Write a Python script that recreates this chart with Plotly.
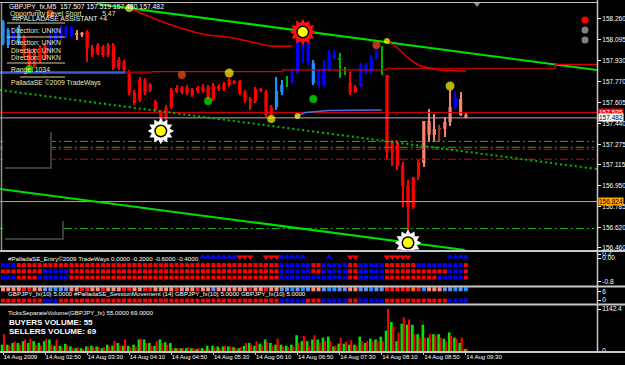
import plotly.graph_objects as go

W, H = 625, 365
def px(x):
    return x / W
def py(y):
    return 1 - y / H

def rle(pairs):
    return [c for c, n in pairs for _ in range(n)]

# ---------------- data ----------------
bar_idx = list(range(89))
tick_idx = [0, 8, 16, 24, 32, 40, 48, 56, 64, 72, 80, 88]
tick_labels = ["14 Aug 2009", "14 Aug 02:50", "14 Aug 03:30", "14 Aug 04:10", "14 Aug 04:50",
               "14 Aug 05:30", "14 Aug 06:10", "14 Aug 06:50", "14 Aug 07:30", "14 Aug 08:10",
               "14 Aug 08:50", "14 Aug 09:30"]
price_ticks = [158.260, 158.095, 157.930, 157.770, 157.605, 157.440, 157.275, 157.115,
               156.950, 156.785, 156.620, 156.460]

candle_class = rle([("L", 2), ("B", 1), ("L", 1), ("R", 5), ("B", 5), ("S", 2), ("R", 36),
                    ("L", 2), ("G", 1), ("B", 4), ("L", 1), ("B", 4), ("G", 2), ("R", 2),
                    ("B", 4), ("G", 1), ("R", 7), ("S", 3), ("D", 1), ("S", 2), ("B", 1), ("S", 2)])

open_ = [158.071, 158.055, 158.094, 158.071, 158.110, 158.000, 158.000, 158.032, 158.055, 158.016,
         158.094, 158.110, 158.134, 158.134, 158.134, 158.134, 158.157, 158.032, 158.055, 158.040,
         158.055, 158.055, 157.937, 157.922, 157.843, 157.678, 157.780, 157.780, 157.741, 157.607,
         157.528, 157.560, 157.701, 157.717, 157.717, 157.717, 157.701, 157.717, 157.725, 157.725,
         157.733, 157.733, 157.749, 157.780, 157.772, 157.772, 157.686, 157.631, 157.709, 157.709,
         157.686, 157.568, 157.568, 157.686, 157.764, 157.764, 157.843, 158.016, 157.914, 157.756,
         157.741, 157.741, 157.859, 157.953, 157.937, 157.859, 157.756, 157.725, 157.741, 157.843,
         157.843, 157.961, 158.032, 157.819, 157.293, 157.285, 157.112, 156.955, 157.017, 157.135,
         157.127, 157.348, 157.348, 157.387, 157.395, 157.450, 157.568, 157.631, 157.507]
high = [158.252, 158.189, 158.173, 158.212, 158.134, 158.016, 158.032, 158.055, 158.071, 158.173,
        158.189, 158.212, 158.212, 158.205, 158.173, 158.157, 158.173, 158.055, 158.071, 158.055,
        158.071, 158.071, 157.961, 157.937, 157.859, 157.701, 157.804, 157.796, 157.756, 157.623,
        157.544, 157.584, 157.717, 157.741, 157.733, 157.741, 157.717, 157.733, 157.749, 157.741,
        157.756, 157.749, 157.764, 157.796, 157.780, 157.780, 157.701, 157.646, 157.725, 157.717,
        157.701, 157.584, 157.804, 157.780, 157.812, 157.859, 158.134, 158.134, 158.094, 157.937,
        157.859, 157.937, 158.016, 158.016, 157.992, 157.882, 157.843, 157.741, 157.914, 157.914,
        157.977, 158.055, 158.040, 157.819, 157.308, 157.308, 157.135, 156.994, 157.017, 157.151,
        157.458, 157.552, 157.513, 157.426, 157.489, 157.701, 157.686, 157.686, 157.519]
low = [158.055, 158.032, 158.071, 158.055, 157.953, 157.859, 157.874, 157.914, 157.937, 157.992,
       158.071, 158.094, 158.110, 158.118, 158.094, 158.118, 157.922, 157.961, 157.977, 157.961,
       157.961, 157.859, 157.859, 157.843, 157.662, 157.584, 157.607, 157.662, 157.686, 157.528,
       157.426, 157.466, 157.552, 157.678, 157.670, 157.662, 157.646, 157.678, 157.678, 157.631,
       157.615, 157.694, 157.694, 157.725, 157.749, 157.662, 157.599, 157.544, 157.599, 157.686,
       157.489, 157.489, 157.544, 157.662, 157.725, 157.749, 157.827, 157.914, 157.898, 157.741,
       157.717, 157.725, 157.843, 157.937, 157.796, 157.819, 157.662, 157.678, 157.725, 157.827,
       157.827, 157.937, 157.819, 157.158, 157.104, 157.072, 156.782, 156.530, 156.766, 156.994,
       157.096, 157.293, 157.293, 157.293, 157.332, 157.418, 157.544, 157.497, 157.480]
close = [158.236, 158.173, 158.157, 158.197, 157.977, 157.898, 157.890, 157.937, 157.953, 158.134,
         158.173, 158.189, 158.197, 158.189, 158.150, 158.150, 158.032, 157.977, 157.992, 157.977,
         157.977, 157.874, 157.874, 157.859, 157.678, 157.599, 157.623, 157.678, 157.701, 157.544,
         157.466, 157.481, 157.568, 157.686, 157.686, 157.678, 157.662, 157.694, 157.694, 157.646,
         157.631, 157.709, 157.709, 157.741, 157.756, 157.678, 157.623, 157.615, 157.615, 157.701,
         157.505, 157.505, 157.694, 157.741, 157.772, 157.843, 158.118, 158.110, 158.071, 157.914,
         157.835, 157.874, 157.992, 157.992, 157.945, 157.867, 157.686, 157.686, 157.898, 157.898,
         157.961, 158.016, 158.040, 157.213, 157.213, 157.104, 156.947, 156.782, 156.782, 157.017,
         157.458, 157.458, 157.395, 157.403, 157.450, 157.568, 157.639, 157.505, 157.482]

buy_vol = [172, 172, 219, 219, 267, 219, 267, 219, 267, 314,
           143, 143, 191, 124, 76, 76, 124, 143, 124, 76,
           172, 143, 219, 143, 143, 172, 314, 314, 219, 143,
           314, 238, 219, 76, 76, 76, 76, 48, 76, 143,
           143, 124, 124, 124, 105, 76, 143, 219, 143, 200,
           314, 219, 172, 172, 143, 172, 429, 267, 267, 314,
           314, 362, 391, 124, 200, 200, 172, 172, 391, 219,
           334, 314, 391, 553, 791, 267, 743, 715, 715, 457,
           715, 362, 457, 457, 334, 505, 362, 219, 48]
sell_vol = [457, 143, 267, 172, 314, 343, 172, 143, 334, 172,
            314, 105, 143, 76, 105, 48, 124, 105, 105, 105,
            124, 267, 143, 314, 105, 124, 334, 219, 143, 267,
            219, 172, 76, 76, 76, 105, 76, 76, 48, 48,
            105, 76, 143, 124, 76, 105, 219, 172, 267, 143,
            238, 143, 334, 124, 105, 124, 219, 410, 143, 429,
            219, 267, 267, 143, 353, 257, 295, 143, 267, 267,
            267, 267, 267, 1142.4, 677, 505, 915, 858, 457, 362,
            362, 457, 438, 362, 267, 410, 334, 362, 67]

entry_row1 = rle([("b", 3), ("r", 50), ("b", 6), ("r", 2), ("b", 5), ("r", 2), ("b", 5), ("r", 6), ("b", 9), ("r", 1)])
entry_row2 = rle([("r", 8), ("b", 5), ("r", 40), ("b", 6), ("r", 2), ("b", 5), ("r", 2), ("b", 5), ("r", 12), ("b", 3), ("r", 1)])
entry_row3 = rle([("b", 3), ("r", 4), ("b", 6), ("r", 40), ("b", 13), ("r", 2), ("b", 5), ("r", 10), ("b", 5), ("r", 1)])
session_bottom = rle([("r", 8), ("b", 3), ("r", 42), ("b", 5), ("r", 3), ("b", 5), ("r", 2), ("b", 5), ("r", 12), ("b", 4)])
session_top = list("pppprrpp" "ccdcc" "pprrpprppprrpprrpp" "pprppprppcpppp" "pprpprpp" "ccdcdc" "pp"
                   "cddcc" "pp" "ccdcc" "rrrrror" "dpppc" "cdcd")

up_arrow_idx = [38, 39, 40, 41, 42, 43, 44, 53, 54, 55, 56, 57, 62, 85, 86, 87, 88]
down_arrow_idx = [45, 46, 47, 50, 51, 52, 66, 67, 73, 74, 75, 76, 77]

dot_idx = [5, 9, 24, 34, 43, 39, 51, 56, 59, 71, 73, 85]
dot_price = [157.867, 158.299, 158.346, 157.819, 157.835, 157.615, 157.473, 157.497, 157.631, 158.055, 158.087, 157.733]
dot_color = ["#00ff00", "#ff5010", "#ffff00", "#ff5010", "#ffff00", "#00ff00", "#ffff00", "#ffff00",
             "#00ff00", "#ff5010", "#ffff00", "#ffff00"]
dot_size = [8, 8, 8, 8, 9, 8, 8, 6, 8, 8, 6, 9]

sun_white_idx = [30, 77]
sun_white_price = [157.379, 156.500]
sun_red_idx = [57]
sun_red_price = [158.157]

upper_line_idx = [17.9, 112.9]
upper_line_price = [158.378, 157.859]
mid_line_idx = [-0.6, 112.9]
mid_line_price = [157.701, 157.080]
lower_line_idx = [-0.6, 87.8]
lower_line_price = [156.923, 156.443]

dashdot_prices = [157.297, 157.251, 157.235, 157.157, 156.613]
dashdot_colors = ["#18b818", "#18b818", "#e00000", "#e00000", "#18b818"]
solid_levels = [157.525, 157.482, 156.824]
solid_colors = ["#e00000", "#b0b0b0", "#ffa500"]

ma1_idx = [24, 28, 32, 37, 39, 43, 47, 51, 55]
ma1_price = [158.346, 158.275, 158.212, 158.150, 158.134, 158.116, 158.081, 158.047, 158.047]
ma2_idx = [73, 75, 77, 79, 81, 83, 88]
ma2_price = [158.087, 158.032, 157.953, 157.898, 157.874, 157.859, 157.851]
blue_ma_idx = [55.5, 57.5, 62, 72]
blue_ma_price = [157.492, 157.524, 157.540, 157.544]

step_idx = [28.3, 53.2, 73, 105, 113]
step_price = [157.845, 157.859, 157.872, 157.903, 157.903]
range_blue_idx = [-0.6, 23.2]
range_red_idx = [23.2, 28.3]
range_price = 157.839

# ---------------- figure ----------------
fig = go.Figure()

def line(xs, ys, color, width=1, dash=None, shape="linear", yaxis="y"):
    fig.add_trace(go.Scatter(x=xs, y=ys, mode="lines", yaxis=yaxis, hoverinfo="skip",
                             line=dict(color=color, width=width, dash=dash, shape=shape)))

for p, c in zip(dashdot_prices, dashdot_colors):
    line([-0.6, 112.4], [p, p], c, 1, "8px,3px,2px,3px")
for p, c in zip(solid_levels, solid_colors):
    line([-0.6, 113], [p, p], c, 1)
line(mid_line_idx, mid_line_price, "#00c000", 2, "2px,3px")
line(upper_line_idx, upper_line_price, "#00e000", 2)
line(lower_line_idx, lower_line_price, "#00e000", 2)
line(range_blue_idx, [range_price] * 2, "#3a5fd0", 2.5)
line(range_red_idx, [range_price] * 2, "#900000", 2.5)
line(step_idx, step_price, "#e00000", 1.2, shape="hv")
line(ma1_idx, ma1_price, "#e00000", 1.5, shape="spline")
line(ma2_idx, ma2_price, "#e00000", 1.5, shape="spline")
line(blue_ma_idx, blue_ma_price, "#4a6fe0", 1.5)

CANDLE_COLORS = {"R": "#ff0000", "B": "#0000ff", "L": "#1e90ff", "S": "#fa8072",
                 "G": "#00b000", "D": "#8b3a3a"}
for cls, col in CANDLE_COLORS.items():
    ids = [i for i in bar_idx if candle_class[i] == cls]
    if not ids:
        continue
    fig.add_trace(go.Bar(x=ids, y=[high[i] - low[i] for i in ids], base=[low[i] for i in ids],
                         width=0.22, marker=dict(color=col, line=dict(width=0)),
                         yaxis="y", hoverinfo="skip"))
    bw = 0.25 if cls == "G" else 0.62
    fig.add_trace(go.Bar(x=ids, y=[max(abs(close[i] - open_[i]), 0.005) for i in ids],
                         base=[min(open_[i], close[i]) for i in ids], width=bw,
                         marker=dict(color=col, line=dict(width=0)), yaxis="y", hoverinfo="skip"))

fig.add_trace(go.Scatter(x=dot_idx, y=dot_price, mode="markers", hoverinfo="skip",
                         marker=dict(color=dot_color, size=dot_size, line=dict(width=0))))

for idxs, prices, spike in [(sun_white_idx, sun_white_price, "white"), (sun_red_idx, sun_red_price, "#ff1010")]:
    for ang in (0, 30):
        fig.add_trace(go.Scatter(x=idxs, y=prices, mode="markers", hoverinfo="skip",
                                 marker=dict(symbol="hexagram", size=20, color=spike, angle=ang,
                                             line=dict(width=0))))
    fig.add_trace(go.Scatter(x=idxs, y=prices, mode="markers", hoverinfo="skip",
                             marker=dict(symbol="circle", size=13, color="black", line=dict(width=0))))
    fig.add_trace(go.Scatter(x=idxs, y=prices, mode="markers", hoverinfo="skip",
                             marker=dict(symbol="circle", size=10, color="#ffff00", line=dict(width=0))))

# entry panel
RB = {"r": "#ff0000", "b": "#0000ff"}
for row_no, row in [(1, entry_row1), (2, entry_row2), (3, entry_row3)]:
    fig.add_trace(go.Scatter(x=bar_idx, y=[row_no] * len(bar_idx), yaxis="y2", mode="markers",
                             hoverinfo="skip",
                             marker=dict(symbol="square", size=4, color=[RB[c] for c in row],
                                         line=dict(width=0))))
fig.add_trace(go.Scatter(x=up_arrow_idx, y=[-0.3] * len(up_arrow_idx), yaxis="y2", mode="markers",
                         hoverinfo="skip",
                         marker=dict(symbol="triangle-up", size=6, color="#0000ff", line=dict(width=0))))
fig.add_trace(go.Scatter(x=down_arrow_idx, y=[-0.3] * len(down_arrow_idx), yaxis="y2", mode="markers",
                         hoverinfo="skip",
                         marker=dict(symbol="triangle-down", size=6, color="#ff0000", line=dict(width=0))))

# session panel
TOP = {"p": "#ff8c7a", "r": "#ff1a1a", "o": "#ff6a00", "c": "#6a8fe8", "d": "#1e90ff"}
fig.add_trace(go.Scatter(x=bar_idx, y=[1] * len(bar_idx), yaxis="y3", mode="markers", hoverinfo="skip",
                         marker=dict(symbol="square", size=4, color=[TOP[c] for c in session_top],
                                     line=dict(width=0))))
fig.add_trace(go.Scatter(x=bar_idx, y=[2] * len(bar_idx), yaxis="y3", mode="markers", hoverinfo="skip",
                         marker=dict(symbol="square", size=4, color=[RB[c] for c in session_bottom],
                                     line=dict(width=0))))

# volume panel
fig.add_trace(go.Bar(x=bar_idx, y=buy_vol, yaxis="y4", width=0.5, offset=-0.42,
                     marker=dict(color="#00e600", line=dict(width=0)), hoverinfo="skip"))
fig.add_trace(go.Bar(x=bar_idx, y=sell_vol, yaxis="y4", width=0.4, offset=0.0,
                     marker=dict(color="#ff0000", line=dict(width=0)), hoverinfo="skip"))

TF = dict(family="Liberation Sans", color="white", size=6.5)
common_y = dict(side="right", anchor="x", showgrid=False, zeroline=False, ticks="outside",
                ticklen=3, tickcolor="white", tickfont=TF, showline=False, fixedrange=True,
                automargin=False)

fig.update_layout(
    width=W, height=H, margin=dict(l=0, r=0, t=0, b=0, autoexpand=False),
    paper_bgcolor="black", plot_bgcolor="black", showlegend=False, barmode="overlay",
    xaxis=dict(domain=[0, 597 / W], range=[-0.57, 112.93], anchor="y4", showgrid=False,
               zeroline=False, tickvals=tick_idx, ticktext=tick_labels, ticks="outside",
               ticklen=3, tickcolor="#c0c0c0", tickangle=0, automargin=False,
               tickfont=dict(family="Liberation Sans", color="white", size=6),
               ticklabelposition="outside right", showline=False),
    yaxis=dict(domain=[py(250), py(3)], range=[156.4435, 158.385], tickvals=price_ticks,
               ticktext=[f"{v:.3f}" for v in price_ticks], **common_y),
    yaxis2=dict(domain=[py(285), py(252)], range=[4.2, -1.1], tickvals=[-0.77, -0.13, 3.69],
                ticktext=["0.2", "0.00", "-0.8"], **common_y),
    yaxis3=dict(domain=[py(304), py(287)], range=[2.31, 0.795], tickvals=[1.24, 1.96],
                ticktext=["6", "0"], **common_y),
    yaxis4=dict(domain=[py(351), py(306)], range=[0, 1224], tickvals=[1142.4, 0],
                ticktext=["1142.4", "0"], **common_y),
)

KH = "#eee8aa"
texts = [
    ("GBPJPY_fx,M5  157.507 157.519 157.480 157.482", 7, 7, "white", 6.8, False),
    ("Opportunity Level Short           5.47", 8, 14, KH, 6.8, False),
    ("##PALLADASE ASSISTANT +4", 10, 18, "#f4f4e0", 6.8, False),
    ("Direction: UNKN", 9, 31, KH, 6.8, False),
    ("Direction: UNKN", 9, 43, KH, 6.8, False),
    ("Direction: UNKN", 9, 50, KH, 6.8, False),
    ("Direction: UNKN", 9, 57, KH, 6.8, False),
    ("Range: 1034", 9, 70, KH, 6.8, False),
    ("PalladaSE ©2009 TradeWays", 9, 83, KH, 6.8, False),
    ("#PalladaSE_Entry©2009 TradeWays 0.0000 -0.2000 -0.6000 -0.4000", 6, 258, "white", 6.2, False),
    ("GBPJPY_fx(10) 5.0000", 6, 293.5, "white", 6.2, False),
    ("#PalladaSE_SessionMovement (14)", 72, 293.5, "white", 6.2, False),
    ("GBPJPY_fx(10) 5.0000", 173, 293.5, "white", 6.2, False),
    ("GBPJPY_fx(10) 5.0000", 239, 293.5, "white", 6.2, False),
    ("TicksSeparateVolume(GBPJPY_fx) 55.0000 69.0000", 6, 312, "white", 6.2, False),
    ("BUYERS VOLUME: 55", 7, 322, "white", 8, True),
    ("SELLERS VOLUME: 69", 7, 331, "white", 8, True),
]
for t, x, y, c, s, b in texts:
    fig.add_annotation(x=px(x), y=py(y), xref="paper", yref="paper", text=f"<b>{t}</b>" if b else t,
                       showarrow=False, xanchor="left", yanchor="middle",
                       font=dict(family="Liberation Sans", color=c, size=s))

for txt, price, bg, fg in [("157.525", 157.525, "#ff0000", "white"),
                           ("157.482", 157.482, "white", "black"),
                           ("156.824", 156.824, "#ffa500", "black")]:
    fig.add_annotation(x=px(598), y=price, xref="paper", yref="y", text=txt, showarrow=False,
                       xanchor="left", yanchor="middle", bgcolor=bg, borderpad=0,
                       font=dict(family="Liberation Sans", color=fg, size=6.5))

shapes = []
def hline(y, x0, x1, color, w=1):
    shapes.append(dict(type="line", xref="paper", yref="paper", x0=px(x0), x1=px(x1), y0=py(y), y1=py(y),
                       line=dict(color=color, width=w), layer="above"))
for y in (23, 37, 63):
    hline(y, 7, 65, "#d8d0a0")
hline(77, 20, 65, "#d8d0a0")
# dark boxes
for x0, y0, x1, y1 in [(3, 130, 50, 167), (3, 219, 62, 238)]:
    shapes.append(dict(type="rect", xref="paper", yref="paper", x0=px(x0 + 2), x1=px(x1 + 2),
                       y0=py(y1 + 2), y1=py(y0 + 2), fillcolor="#3a3a3a", line=dict(width=0), layer="above"))
    shapes.append(dict(type="rect", xref="paper", yref="paper", x0=px(x0), x1=px(x1),
                       y0=py(y1), y1=py(y0), fillcolor="black", line=dict(width=0), layer="above"))
# panel separators
hline(2.5, 0, 597, "#c0c0c0", 1)
for y in (251, 286.5, 304.5, 352):
    hline(y, 0, 625, "#c8c8c8", 2)
shapes.append(dict(type="line", xref="paper", yref="paper", x0=px(597.5), x1=px(597.5), y0=py(352), y1=py(0),
                   line=dict(color="#c8c8c8", width=1.5), layer="above"))
shapes.append(dict(type="line", xref="paper", yref="paper", x0=px(1.5), x1=px(1.5), y0=py(250), y1=py(3),
                   line=dict(color="#909090", width=1.5), layer="above"))
# status dots
for y, c in [(20, "#ff0000"), (30, "#808080"), (40, "#808080")]:
    shapes.append(dict(type="circle", xref="paper", yref="paper", x0=px(581.5), x1=px(588.5),
                       y0=py(y + 3.5), y1=py(y - 3.5), fillcolor=c, line=dict(width=0), layer="above"))
# chart shift marker
shapes.append(dict(type="path", xref="paper", yref="paper",
                   path=f"M {px(474)},{py(3)} L {px(480)},{py(3)} L {px(477)},{py(7)} Z",
                   fillcolor="#909090", line=dict(width=0), layer="above"))
fig.update_layout(shapes=shapes)

fig.write_html("out.html")
